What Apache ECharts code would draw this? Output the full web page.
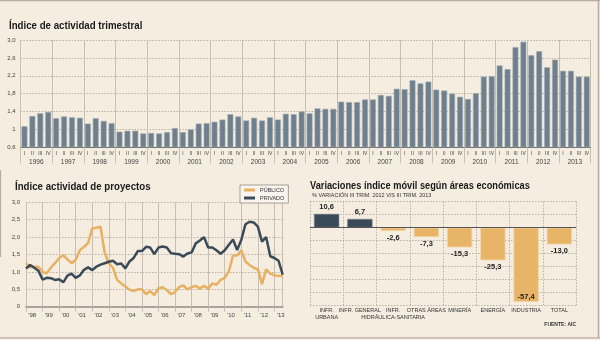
<!DOCTYPE html>
<html><head><meta charset="utf-8">
<script src="https://cdn.jsdelivr.net/npm/echarts@6/dist/echarts.min.js"></script>
<style>html,body{margin:0;padding:0;background:#f5eee0}#c{width:600px;height:340px}</style>
</head><body><div id="c"></div>
<script>
// ---- Top chart: Índice de actividad trimestral ----
const years = ['1996','1997','1998','1999','2000','2001','2002','2003','2004','2005','2006','2007','2008','2009','2010','2011','2012','2013'];
const quarters = ['I','II','III','IV'];
const trimestral = [
  1.07,1.30,1.36,1.39, 1.25,1.29,1.27,1.26, 1.13,1.25,1.19,1.14, 0.95,0.97,0.97,0.91,
  0.92,0.91,0.94,1.03, 0.94,1.00,1.13,1.14, 1.17,1.22,1.34,1.29, 1.20,1.26,1.20,1.27,
  1.22,1.35,1.34,1.40, 1.36,1.47,1.46,1.46, 1.62,1.61,1.61,1.67, 1.67,1.77,1.75,1.91,
  1.90,2.10,2.03,2.07, 1.89,1.87,1.80,1.73, 1.68,1.81,2.18,2.19, 2.43,2.35,2.84,2.96,
  2.66,2.75,2.39,2.56, 2.31,2.31,2.18,2.18
];
const topBase = 0.6;
const topTicks = ['0,6','1','1,4','1,8','2,2','2,6','3,0'];

// ---- Bottom-left: Índice actividad de proyectos (quarterly 1998 I - 2013 III) ----
const projYears = ['1998','1999','2000','2001','2002','2003','2004','2005','2006','2007','2008','2009','2010','2011','2012','2013'];
const publico = [
  1.25,1.13,1.15,1.15, 1.00,0.96,1.12,1.25, 1.40,1.48,1.36,1.25, 1.35,1.62,1.72,1.83,
  2.25,2.27,2.30,1.55, 1.25,1.12,0.77,0.67, 0.58,0.49,0.45,0.50, 0.50,0.36,0.45,0.33,
  0.53,0.56,0.48,0.36, 0.42,0.57,0.61,0.50, 0.56,0.60,0.52,0.60, 0.52,0.67,0.63,0.77,
  0.83,1.02,1.47,1.47, 1.62,1.30,1.20,1.12, 1.07,0.65,1.07,0.95, 0.90,0.89,0.88
];
const privado = [
  1.10,1.20,1.12,1.03, 0.78,0.83,0.82,0.77, 0.79,0.70,0.89,0.95, 0.83,0.90,1.06,1.13,
  1.05,1.15,1.21,1.25, 1.29,1.32,1.22,1.24, 1.10,1.30,1.40,1.60, 1.60,1.72,1.70,1.51,
  1.70,1.73,1.70,1.54, 1.52,1.51,1.44,1.53, 1.56,1.82,1.90,2.00, 1.70,1.70,1.62,1.52,
  1.62,1.78,1.93,1.63, 1.92,2.37,2.44,2.42, 2.30,1.87,2.00,1.45, 1.40,1.32,0.92
];

// ---- Bottom-right: Variaciones índice móvil ----
const areas = ['INFR.\nURBANA','INFR. GENERAL','INFR.\nHIDRÁULICA-SANITARIA','OTRAS ÁREAS','MINERÍA','ENERGÍA','INDUSTRIA','TOTAL'];
const variaciones = [10.6, 6.7, -2.6, -7.3, -15.3, -25.3, -57.4, -13.0];

const FONT = '"Liberation Sans",sans-serif';
const quarterCats = years.flatMap(y => quarters.map(q => y + ' ' + q));
const projCats = projYears.flatMap(y => quarters.map(q => y + ' ' + q)).slice(0, publico.length);
const fmt1 = v => v.toFixed(1).replace('.', ',');

const chart = echarts.init(document.getElementById('c'), null, {renderer: 'canvas'});
const titleStyle = {font: 'bold 11px "Liberation Sans",sans-serif', fill: '#1a1a1a',
  shadowColor: 'rgba(0,0,0,0.25)', shadowOffsetX: 1, shadowOffsetY: 1, shadowBlur: 1};
const grey = '#c8bfb1';
const dotted = {color: '#b8b0a3', type: [1.5, 1.5], width: 1};
const title = (text, x, y, sx) => ({type: 'text', x: x, y: y, scaleX: sx, style: Object.assign({text: text}, titleStyle)});

chart.setOption({
  backgroundColor: '#f5eee0',
  animation: false,
  textStyle: {fontFamily: FONT},
  legend: {
    data: ['PÚBLICO', 'PRIVADO'], orient: 'vertical', left: 240, top: 185,
    icon: 'rect', itemWidth: 11, itemHeight: 3, itemGap: 2,
    backgroundColor: '#f9f5ee', borderColor: '#8f897f', borderWidth: 0.8, padding: [2, 4, 2, 4],
    textStyle: {fontSize: 5.5, color: '#333', fontFamily: FONT}
  },
  grid: [
    {left: 20.5, right: 9.3, top: 40, height: 107.3},
    {left: 26, right: 317.3, top: 202.3, height: 104.4},
    {left: 310, right: 24, top: 201.7, height: 103.6}
  ],
  xAxis: [
    {gridIndex: 0, type: 'category', data: quarterCats,
     axisLine: {lineStyle: {color: '#6d6a66', width: 1}}, axisTick: {show: false},
     axisLabel: {interval: 0, formatter: v => v.split(' ')[1], fontSize: 5, color: '#444', margin: 4}},
    {gridIndex: 0, type: 'category', data: years, position: 'bottom',
     axisLine: {show: false}, axisTick: {show: true, length: 16, lineStyle: {color: grey}},
     axisLabel: {fontSize: 6.5, color: '#444', margin: 11},
     splitLine: {show: true, lineStyle: {color: grey, width: 1}}},
    {gridIndex: 1, type: 'category', data: projCats, boundaryGap: false,
     axisLine: {lineStyle: {color: '#a9a39a', width: 2}},
     axisTick: {interval: (i) => i % 4 === 0, length: 5, lineStyle: {color: grey}},
     axisLabel: {interval: (i) => i % 4 === 2, formatter: v => "'" + v.slice(2, 4),
       fontSize: 6, color: '#444', margin: 6, padding: [0, 4, 0, 0]},
     splitLine: {show: true, interval: (i) => i % 4 === 0, lineStyle: {color: grey}}},
    {gridIndex: 2, type: 'category', data: areas,
     axisLine: {show: false, onZero: false}, axisTick: {show: false},
     axisLabel: {interval: 0, fontSize: 5.5, color: '#333', margin: 2, lineHeight: 6.5},
     splitLine: {show: true, lineStyle: dotted}}
  ],
  yAxis: [
    {gridIndex: 0, type: 'value', min: 0, max: 3.0 - topBase, interval: 0.4,
     axisLine: {show: false}, axisTick: {show: false},
     axisLabel: {formatter: v => topTicks[Math.round(v / 0.4)], fontSize: 6, color: '#444', margin: 5},
     splitLine: {lineStyle: dotted}},
    {gridIndex: 1, type: 'value', min: 0, max: 3, interval: 0.5,
     axisLine: {show: false}, axisTick: {show: false},
     axisLabel: {formatter: v => v === 0 ? '0' : fmt1(v), fontSize: 6, color: '#444', margin: 6},
     splitLine: {lineStyle: dotted}},
    {gridIndex: 1, type: 'value', min: 0, max: 3, position: 'right',
     axisLine: {show: true, lineStyle: {color: grey}}, axisTick: {show: false},
     axisLabel: {show: false}, splitLine: {show: false}},
    {gridIndex: 2, type: 'value', min: -60, max: 20, interval: 10,
     axisLine: {show: false}, axisTick: {show: false}, axisLabel: {show: false},
     splitLine: {lineStyle: dotted}}
  ],
  series: [
    {type: 'bar', xAxisIndex: 0, yAxisIndex: 0, barCategoryGap: '26%',
     data: trimestral.map(v => +(v - topBase).toFixed(3)),
     itemStyle: {color: '#6e7f8d', borderColor: '#9eaab3', borderWidth: 0.6}},
    {type: 'line', name: 'PÚBLICO', xAxisIndex: 2, yAxisIndex: 1, data: publico,
     symbol: 'none', lineStyle: {color: '#e8b062', width: 2.5}, itemStyle: {color: '#e8b062'}},
    {type: 'line', name: 'PRIVADO', xAxisIndex: 2, yAxisIndex: 1, data: privado,
     symbol: 'none', lineStyle: {color: '#3a4a59', width: 2.5}, itemStyle: {color: '#3a4a59'}},
    {type: 'bar', xAxisIndex: 3, yAxisIndex: 3, barCategoryGap: '24%',
     data: variaciones.map(v => ({
       value: v,
       itemStyle: v >= 0 ? {color: '#3b4a59', borderColor: '#7d8893', borderWidth: 0.6}
                         : {color: '#e8b468', borderColor: '#f3d6a6', borderWidth: 0.8},
       label: {position: v >= 0 ? 'top' : (v < -50 ? 'insideBottom' : 'bottom'), distance: v < -50 ? 1 : 3}
     })),
     label: {show: true, formatter: p => fmt1(p.value), fontSize: 7.5, fontWeight: 'bold',
       color: '#1e1e1e', fontFamily: FONT},
     markLine: {silent: true, symbol: 'none', label: {show: false},
       lineStyle: {color: '#555', type: 'solid', width: 1.2}, data: [{yAxis: 0}]}}
  ],
  graphic: [
    {type: 'line', shape: {x1: 0, y1: 0.5, x2: 600, y2: 0.5}, style: {stroke: '#b9ad9f', lineWidth: 1.5}},
    {type: 'line', shape: {x1: 598.5, y1: 0, x2: 598.5, y2: 338}, style: {stroke: '#b9ad9f', lineWidth: 1.5}},
    {type: 'line', shape: {x1: 0, y1: 337.8, x2: 600, y2: 337.8}, style: {stroke: '#b9ad9f', lineWidth: 1.2}},
    {type: 'line', shape: {x1: 0.5, y1: 170, x2: 0.5, y2: 257}, style: {stroke: '#b9ad9f', lineWidth: 1.2}},
    title('Índice de actividad trimestral', 9, 20, 0.88),
    title('Índice actividad de proyectos', 15, 181, 0.88),
    title('Variaciones índice móvil según áreas económicas', 310, 180, 0.84),
    {type: 'text', left: 312, top: 192, style: {text: '% VARIACIÓN III TRIM. 2012 V/S III TRIM. 2013', font: '5.5px ' + FONT, fill: '#333'}},
    {type: 'text', right: 24, top: 322, style: {text: 'FUENTE: AIC', font: 'bold 5px ' + FONT, fill: '#333'}}
  ]
});
</script></body></html>
